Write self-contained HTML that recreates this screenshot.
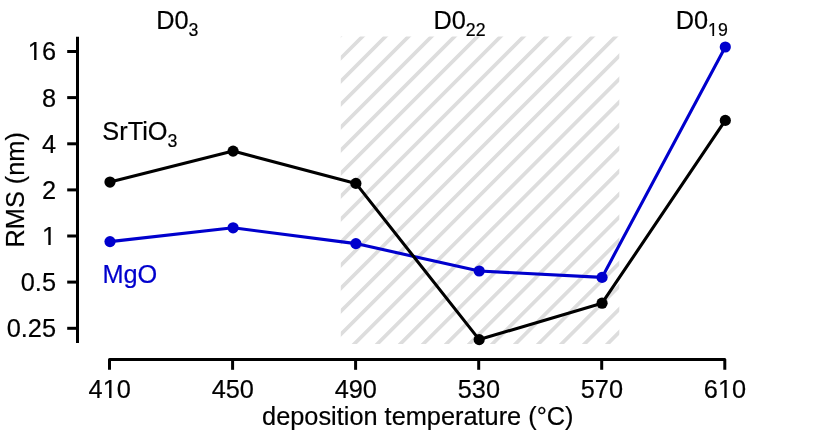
<!DOCTYPE html>
<html><head><meta charset="utf-8"><title>RMS vs deposition temperature</title>
<style>html,body{margin:0;padding:0;background:#fff;}svg{display:block;will-change:transform;}text{font-family:"Liberation Sans",sans-serif;stroke-width:0.2px;fill:#000;stroke:#000;}text.b{fill:#0000cd;stroke:#0000cd;}</style></head><body>
<svg width="830" height="445" viewBox="0 0 830 445">
<rect width="830" height="445" fill="#fff"/>
<defs><clipPath id="hc"><rect x="340.8" y="36.4" width="278.49999999999994" height="307.6"/></clipPath></defs>
<path clip-path="url(#hc)" d="M335.80 17.16L624.30 -271.34M335.80 40.18L624.30 -248.32M335.80 63.20L624.30 -225.30M335.80 86.22L624.30 -202.28M335.80 109.24L624.30 -179.26M335.80 132.26L624.30 -156.24M335.80 155.28L624.30 -133.22M335.80 178.30L624.30 -110.20M335.80 201.32L624.30 -87.18M335.80 224.34L624.30 -64.16M335.80 247.36L624.30 -41.14M335.80 270.38L624.30 -18.12M335.80 293.40L624.30 4.90M335.80 316.42L624.30 27.92M335.80 339.44L624.30 50.94M335.80 362.46L624.30 73.96M335.80 385.48L624.30 96.98M335.80 408.50L624.30 120.00M335.80 431.52L624.30 143.02M335.80 454.54L624.30 166.04M335.80 477.56L624.30 189.06M335.80 500.58L624.30 212.08M335.80 523.60L624.30 235.10M335.80 546.62L624.30 258.12M335.80 569.64L624.30 281.14M335.80 592.66L624.30 304.16M335.80 615.68L624.30 327.18" stroke="#dddddd" stroke-width="3.7" fill="none"/>
<path d="M77.5 36.8V343" stroke="#000" stroke-width="3" fill="none"/>
<path d="M67.2 51.5H77.5" stroke="#000" stroke-width="3" fill="none"/>
<path d="M67.2 97.6H77.5" stroke="#000" stroke-width="3" fill="none"/>
<path d="M67.2 143.8H77.5" stroke="#000" stroke-width="3" fill="none"/>
<path d="M67.2 189.9H77.5" stroke="#000" stroke-width="3" fill="none"/>
<path d="M67.2 236.0H77.5" stroke="#000" stroke-width="3" fill="none"/>
<path d="M67.2 282.1H77.5" stroke="#000" stroke-width="3" fill="none"/>
<path d="M67.2 328.3H77.5" stroke="#000" stroke-width="3" fill="none"/>
<path d="M109.5 369.8V359.6H724.8V369.8" stroke="#000" stroke-width="3" fill="none" stroke-linejoin="round"/>
<path d="M232.6 359.6V369.8" stroke="#000" stroke-width="3" fill="none"/>
<path d="M355.6 359.6V369.8" stroke="#000" stroke-width="3" fill="none"/>
<path d="M478.7 359.6V369.8" stroke="#000" stroke-width="3" fill="none"/>
<path d="M601.7 359.6V369.8" stroke="#000" stroke-width="3" fill="none"/>
<polyline points="110.0,241.6 233.1,227.8 355.9,243.6 479.2,271.0 602.05,277.4 725.3,47.0" stroke="#0000cd" stroke-width="3.1" fill="none" stroke-linejoin="round"/>
<circle cx="110.0" cy="241.6" r="5.6" fill="#0000cd"/>
<circle cx="233.1" cy="227.8" r="5.6" fill="#0000cd"/>
<circle cx="355.9" cy="243.6" r="5.6" fill="#0000cd"/>
<circle cx="479.2" cy="271.0" r="5.6" fill="#0000cd"/>
<circle cx="602.05" cy="277.4" r="5.6" fill="#0000cd"/>
<circle cx="725.3" cy="47.0" r="5.6" fill="#0000cd"/>
<polyline points="110.0,182.05 233.1,151.1 355.9,183.4 479.2,339.6 602.05,303.2 725.3,120.4" stroke="#000" stroke-width="3.1" fill="none" stroke-linejoin="round"/>
<circle cx="110.0" cy="182.05" r="5.6" fill="#000"/>
<circle cx="233.1" cy="151.1" r="5.6" fill="#000"/>
<circle cx="355.9" cy="183.4" r="5.6" fill="#000"/>
<circle cx="479.2" cy="339.6" r="5.6" fill="#000"/>
<circle cx="602.05" cy="303.2" r="5.6" fill="#000"/>
<circle cx="725.3" cy="120.4" r="5.6" fill="#000"/>
<text x="56.0" y="60.4" font-size="25.33" text-anchor="end">16</text>
<text x="56.0" y="106.5" font-size="25.33" text-anchor="end">8</text>
<text x="56.0" y="152.7" font-size="25.33" text-anchor="end">4</text>
<text x="56.0" y="198.8" font-size="25.33" text-anchor="end">2</text>
<text x="56.0" y="244.9" font-size="25.33" text-anchor="end">1</text>
<text x="56.0" y="291.0" font-size="25.33" text-anchor="end">0.5</text>
<text x="56.0" y="337.2" font-size="25.33" text-anchor="end">0.25</text>
<text x="109.7" y="398.3" font-size="25.33" text-anchor="middle">410</text>
<text x="232.8" y="398.3" font-size="25.33" text-anchor="middle">450</text>
<text x="355.8" y="398.3" font-size="25.33" text-anchor="middle">490</text>
<text x="478.9" y="398.3" font-size="25.33" text-anchor="middle">530</text>
<text x="601.9" y="398.3" font-size="25.33" text-anchor="middle">570</text>
<text x="725.0" y="398.3" font-size="25.33" text-anchor="middle">610</text>
<text x="417.8" y="425" font-size="25.33" text-anchor="middle">deposition temperature (°C)</text>
<text transform="translate(23.6 189.8) rotate(-90)" font-size="25.33" text-anchor="middle">RMS (nm)</text>
<text x="156.2" y="29.4" font-size="25.33">D0<tspan font-size="17.73" dy="6.5">3</tspan></text>
<text x="433.4" y="29.4" font-size="25.33">D0<tspan font-size="17.73" dy="6.5">22</tspan></text>
<text x="675.7" y="29.4" font-size="25.33">D0<tspan font-size="17.73" dy="6.5">19</tspan></text>
<text x="102.3" y="140" font-size="25.33">SrTiO<tspan font-size="17.73" dy="6.5">3</tspan></text>
<text x="102.4" y="282.7" font-size="25.33" class="b">MgO</text>
<path d="M42 243H48.31V246H42ZM50.68 243H56V246H50.68ZM28 58H34.114V61H28ZM36.486 58H41.5V61H36.486ZM102.5 396H109.114V399H102.5ZM111.486 396H116.5V399H111.486ZM717.5 396H724.31V399H717.5ZM726.68 396H732V399H726.68ZM708 34H712.369V37H708ZM714.129 34H718V37H714.129Z" fill="#fff"/>
</svg></body></html>
